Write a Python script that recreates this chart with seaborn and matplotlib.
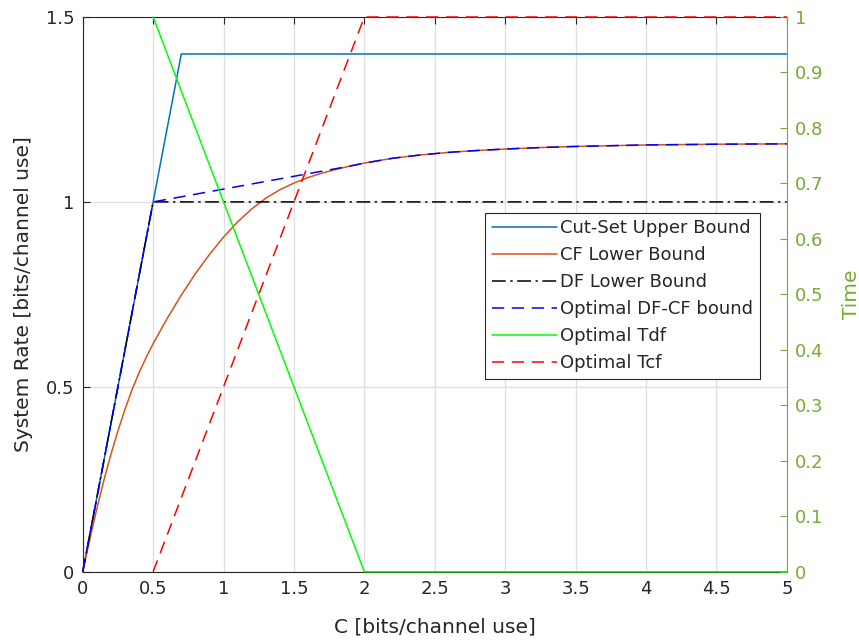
import numpy as np
import pandas as pd
import matplotlib
matplotlib.use("Agg")
import matplotlib.pyplot as plt
import seaborn as sns

# ---- data ----
C_cutset = [0.0, 0.7, 5.0]
R_cutset = [0.0, 1.40, 1.40]

C_cf = [0, 0.05, 0.1, 0.15, 0.2, 0.25, 0.3, 0.35, 0.4, 0.45, 0.5, 0.6, 0.7, 0.8,
        0.9, 1.0, 1.1, 1.2, 1.3, 1.4, 1.5, 1.6, 1.7, 1.8, 1.9, 2.0, 2.2, 2.4,
        2.6, 2.8, 3.0, 3.25, 3.5, 3.75, 4.0, 4.5, 5.0]
R_cf = [0, 0.087, 0.17, 0.247, 0.317, 0.381, 0.439, 0.492, 0.538, 0.579, 0.617,
        0.685, 0.748, 0.806, 0.858, 0.905, 0.946, 0.981, 1.010, 1.033, 1.051,
        1.066, 1.078, 1.088, 1.097, 1.105, 1.118, 1.127, 1.134, 1.139, 1.143,
        1.147, 1.150, 1.152, 1.154, 1.156, 1.157]

C_df = [0.0, 0.5, 5.0]
R_df = [0.0, 1.0, 1.0]

C_opt = [0, 0.5, 1.9, 2.0, 2.2, 2.4, 2.6, 2.8, 3.0, 3.25, 3.5, 3.75, 4.0, 4.5, 5.0]
R_opt = [0, 1.0, 1.097, 1.105, 1.118, 1.127, 1.134, 1.139, 1.143, 1.147, 1.150,
         1.152, 1.154, 1.156, 1.157]

C_tdf = [0.5, 2.0, 5.0]
T_tdf = [1.0, 0.0, 0.0]

C_tcf = [0.5, 2.0, 5.0]
T_tcf = [0.0, 1.0, 1.0]

x_ticks = [0, 0.5, 1, 1.5, 2, 2.5, 3, 3.5, 4, 4.5, 5]
x_ticklabels = ["0", "0.5", "1", "1.5", "2", "2.5", "3", "3.5", "4", "4.5", "5"]
yl_ticks = [0, 0.5, 1, 1.5]
yl_ticklabels = ["0", "0.5", "1", "1.5"]
yr_ticks = [0, 0.1, 0.2, 0.3, 0.4, 0.5, 0.6, 0.7, 0.8, 0.9, 1]
yr_ticklabels = ["0", "0.1", "0.2", "0.3", "0.4", "0.5", "0.6", "0.7", "0.8", "0.9", "1"]

labels = ["Cut-Set Upper Bound", "CF Lower Bound", "DF Lower Bound",
          "Optimal DF-CF bound", "Optimal Tdf", "Optimal Tcf"]

# ---- style ----
sns.set_style("white")
plt.rcParams['font.family'] = ['DejaVu Sans']
dark = "#262626"
green_ax = "#77AC30"

fig = plt.figure(figsize=(8.59, 6.41), dpi=100)
ax = fig.add_axes([0.0963, 0.108, 0.8197, 0.8655])
ax2 = ax.twinx()

lw = 1.1
sns.lineplot(x=C_cutset, y=R_cutset, ax=ax, color="#0072BD", lw=lw, sort=False,
             estimator=None, label=labels[0])
sns.lineplot(x=C_cf, y=R_cf, ax=ax, color="#D95319", lw=lw, sort=False,
             estimator=None, label=labels[1])
sns.lineplot(x=C_df, y=R_df, ax=ax, color="black", lw=lw, sort=False,
             estimator=None, label=labels[2])
sns.lineplot(x=C_opt, y=R_opt, ax=ax, color="#0000FF", lw=lw, sort=False,
             estimator=None, label=labels[3])
sns.lineplot(x=C_tdf, y=T_tdf, ax=ax2, color="#00FF00", lw=lw, sort=False,
             estimator=None, label=labels[4])
sns.lineplot(x=C_tcf, y=T_tcf, ax=ax2, color="#FF0000", lw=lw, sort=False,
             estimator=None, label=labels[5])

lines_l = ax.get_lines()
lines_r = ax2.get_lines()
lines_l[2].set_dashes([9, 3, 1.5, 3])
lines_l[3].set_dashes([8, 5])
lines_r[1].set_dashes([8, 5])
for ln in list(lines_l) + list(lines_r):
    ln.set_clip_on(False)

for a in (ax, ax2):
    if a.get_legend() is not None:
        a.get_legend().remove()

ax.set_xlim(0, 5)
ax.set_ylim(0, 1.5)
ax2.set_ylim(0, 1)
ax.set_xticks(x_ticks)
ax.set_xticklabels(x_ticklabels)
ax.set_yticks(yl_ticks)
ax.set_yticklabels(yl_ticklabels)
ax2.set_yticks(yr_ticks)
ax2.set_yticklabels(yr_ticklabels)

ax.grid(True, color="#DFDFDF", lw=0.9)
ax.set_axisbelow(True)
ax2.grid(False)

fs = 13
lfs = 14.5
ax.tick_params(axis="both", direction="in", length=5, width=0.8, colors=dark,
               labelsize=fs, top=True, pad=6)
ax.tick_params(axis="y", right=False)
ax2.tick_params(axis="y", direction="in", length=5, width=0.8, colors=green_ax,
                labelsize=fs, pad=6)

for s in ["left", "bottom", "top"]:
    ax.spines[s].set_color(dark)
    ax.spines[s].set_linewidth(0.8)
ax.spines["right"].set_visible(False)
for s in ["left", "bottom", "top"]:
    ax2.spines[s].set_visible(False)
ax2.spines["right"].set_color(green_ax)
ax2.spines["right"].set_linewidth(0.8)

ax.set_xlabel("C [bits/channel use]", fontsize=lfs, color=dark, labelpad=14)
ax.set_ylabel("System Rate [bits/channel use]", fontsize=lfs, color=dark, labelpad=9)
ax2.set_ylabel("Time", fontsize=lfs, color=green_ax, labelpad=13)

handles = list(lines_l) + list(lines_r)
leg = ax2.legend(handles, labels, loc="upper left", bbox_to_anchor=(0.572, 0.647),
                 fontsize=13, frameon=True, fancybox=False, handlelength=3.6,
                 handletextpad=0.2, labelspacing=0.5, borderpad=0.35, borderaxespad=0)
leg.get_frame().set_edgecolor(dark)
leg.get_frame().set_linewidth(0.8)
leg.get_frame().set_alpha(1)
for t in leg.get_texts():
    t.set_color(dark)

fig.savefig("out.png", dpi=100)
